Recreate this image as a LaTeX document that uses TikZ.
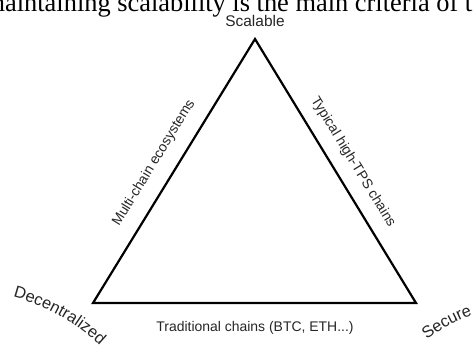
\documentclass[tikz,border=0pt]{standalone}
\usepackage{fontspec}
\setmainfont{Liberation Sans}
\newfontfamily\bodyserif{Liberation Serif}
\usetikzlibrary{decorations.text}
\newcommand{\cornerfont}{\fontsize{16.5}{18}\selectfont}
\begin{document}
\begin{tikzpicture}[x=1bp, y=1bp,
  side/.style={line width=2.2bp, black, line join=miter},
  lbl/.style={font=\fontsize{14}{16}\selectfont, text=black!85, inner sep=0pt},
  arclabel/.style={decorate, decoration={text along path, text align=left,
      text color=black!85, text format delimiters={|}{|}, text={|\cornerfont|#1}}},
]
\useasboundingbox (0,0) rectangle (473,344);
\clip (0,0) rectangle (473,344);
\fill[white] (0,0) rectangle (473,344);

% running text line of the page above the figure
\node[anchor=base west, inner sep=0pt, text=black,
      font=\bodyserif\fontsize{26.5}{30}\selectfont] (body) at (-15.6,332.5)
  {maintaining scalability is the main criteria of the};

% the trilemma triangle
\coordinate (top) at (255,305);
\coordinate (left) at (93,41);
\coordinate (right) at (416,41);
\draw[side] (left) -- (top) -- (right) -- cycle;

% vertex and side labels
\node[lbl, anchor=base, font=\fontsize{15.5}{17}\selectfont] (scal) at (255,318) {Scalable};
\node[lbl, rotate=58.5] (multi) at (154,181) {Multi-chain ecosystems};
\node[lbl, rotate=-58.5] (typ) at (353,182) {Typical high-TPS chains};
\node[lbl, anchor=base] (trad) at (255,13) {Traditional chains (BTC, ETH...)};

% curved corner labels
\path[arclabel=Decentralized] (13,47) arc[start angle=75, end angle=46, radius=205];
\path[arclabel=Secure] (427,4) arc[start angle=128, end angle=106, radius=165];
\end{tikzpicture}
\end{document}
